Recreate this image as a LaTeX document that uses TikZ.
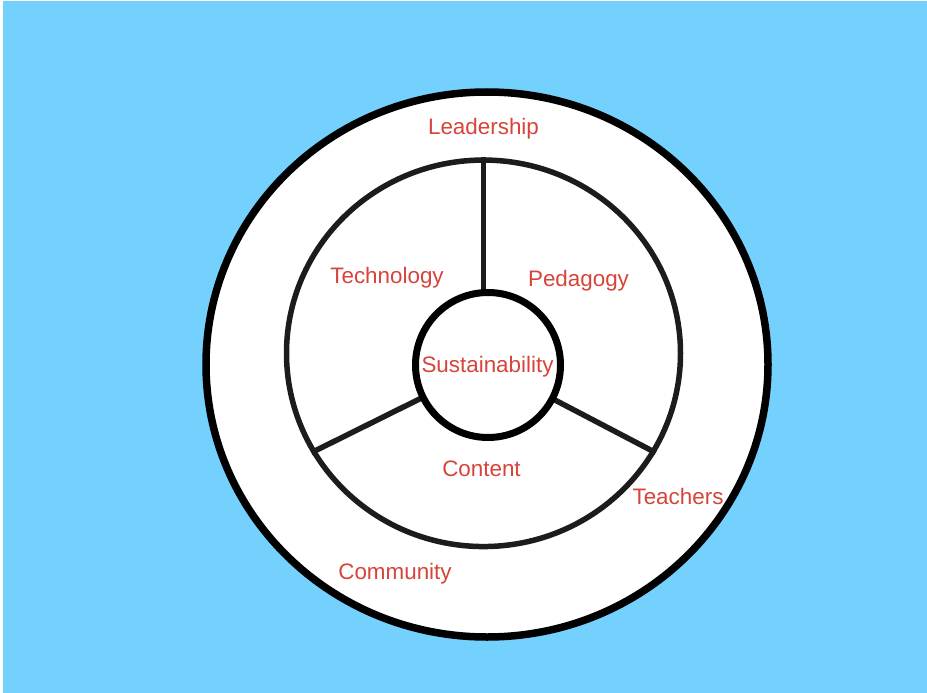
\documentclass[tikz,border=0pt]{standalone}
\usepackage{fontspec}
\setmainfont{Liberation Sans}
\usetikzlibrary{shapes.geometric}
\definecolor{skyblue}{RGB}{116,209,254}
\definecolor{labelred}{RGB}{214,68,58}
\definecolor{ringdark}{RGB}{28,28,28}
\tikzset{
  ringlabel/.style={text=labelred, font=\fontsize{22.4}{26}\selectfont, anchor=base, inner sep=0pt},
  outerring/.style={ellipse, draw=black, line width=7.5pt, fill=white, inner sep=0pt},
  middlering/.style={ellipse, draw=ringdark, line width=5.5pt, inner sep=0pt},
  corering/.style={circle, draw=black, line width=7pt, fill=white, inner sep=0pt},
  spoke/.style={draw=ringdark, line width=5.5pt}
}
\begin{document}
\begin{tikzpicture}[x=1pt,y=-1pt]
\useasboundingbox (0,0) rectangle (927,693);
\fill[white] (0,0) rectangle (927,693);
\fill[skyblue] (3,1) rectangle (927,693);
\node[outerring, minimum width=562pt, minimum height=545pt] (outer) at (487,364.5) {};
\node[middlering, minimum width=394pt, minimum height=386.5pt] (mid) at (483.5,353.3) {};
\coordinate (jtop) at (mid.90);
\coordinate (jright) at (mid.-30.5);
\coordinate (jleft) at (mid.210.5);
\coordinate (corec) at (488,365);
\draw[spoke] (jtop) -- (jtop |- corec);
\draw[spoke] (jright) -- (corec);
\draw[spoke] (jleft) -- (corec);
\node[corering, minimum size=145pt] (core) at (corec) {};
\node[ringlabel] (sust) at (487.5,372.5) {Sustainability};
\node[ringlabel] (lead) at (483.5,134.5) {Leadership};
\node[ringlabel] (tech) at (387,283) {Technology};
\node[ringlabel] (peda) at (578.5,286) {Pedagogy};
\node[ringlabel] (cont) at (481.5,476) {Content};
\node[ringlabel] (teach) at (678,504) {Teachers};
\node[ringlabel] (comm) at (395,579) {Community};
\end{tikzpicture}
\end{document}
